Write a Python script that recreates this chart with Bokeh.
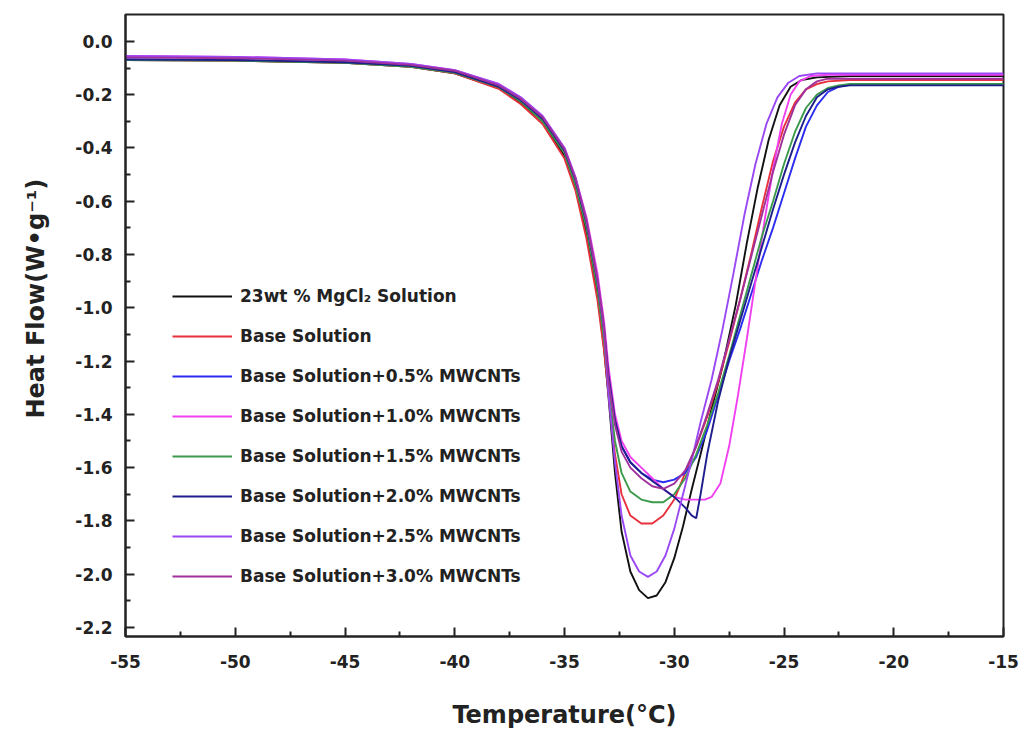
from bokeh.plotting import figure
from bokeh.models import Range1d, FixedTicker, Legend, LegendItem, Title
from bokeh.embed import file_html
from bokeh.resources import INLINE

# ---- data ----
left_T = [-55, -50, -45, -42, -40, -38, -37, -36, -35, -34.5, -34, -33.5, -33.2]

black_T = left_T + [-33.0, -32.7, -32.4, -32.0, -31.6, -31.2, -30.8, -30.4, -30.0, -29.6, -29.2, -28.8, -28.3,
                    -27.8, -27.2, -26.7, -26.2, -25.7, -25.2, -24.7, -24.2, -23.5, -22, -20, -15]
black_H = [-0.07, -0.072, -0.08, -0.095, -0.12, -0.175, -0.23, -0.30, -0.43, -0.55, -0.72, -0.95, -1.15,
           -1.33, -1.62, -1.84, -1.99, -2.06, -2.09, -2.08, -2.03, -1.94, -1.82, -1.68, -1.55, -1.38,
           -1.22, -0.99, -0.76, -0.55, -0.37, -0.24, -0.17, -0.145, -0.135, -0.13, -0.13, -0.13]

red_T = left_T + [-33.0, -32.7, -32.4, -32.0, -31.5, -31.0, -30.5, -30.0, -29.5, -29.0, -28.5, -28.0, -27.5,
                  -27.0, -26.5, -26.0, -25.5, -25.0, -24.5, -24.0, -23.5, -23.0, -22, -20, -15]
red_H = [-0.07, -0.072, -0.08, -0.095, -0.12, -0.178, -0.235, -0.31, -0.44, -0.56, -0.74, -0.97, -1.16,
         -1.32, -1.55, -1.70, -1.78, -1.81, -1.81, -1.78, -1.72, -1.62, -1.52, -1.41, -1.28, -1.13,
         -0.97, -0.80, -0.62, -0.45, -0.32, -0.23, -0.18, -0.16, -0.15, -0.145, -0.145, -0.145]

blue_T = left_T + [-33.0, -32.7, -32.4, -32.0, -31.5, -31.0, -30.5, -30.0, -29.5, -29.0, -28.5, -28.0, -27.5,
                   -27.0, -26.5, -26.0, -25.5, -25.0, -24.5, -24.0, -23.5, -23.0, -22.5, -22, -20, -15]
blue_H = [-0.068, -0.07, -0.078, -0.092, -0.115, -0.17, -0.22, -0.29, -0.41, -0.52, -0.68, -0.90, -1.08,
          -1.25, -1.42, -1.52, -1.58, -1.62, -1.645, -1.655, -1.645, -1.62, -1.56, -1.46, -1.33, -1.20,
          -1.08, -0.95, -0.82, -0.70, -0.57, -0.44, -0.32, -0.24, -0.19, -0.17, -0.162, -0.16, -0.16]

magenta_T = left_T + [-33.0, -32.7, -32.4, -32.0, -31.5, -31.0, -30.5, -30.0, -29.5, -29.0, -28.6, -28.3, -27.9,
                      -27.5, -27.1, -26.7, -26.3, -25.9, -25.5, -25.1, -24.7, -24.3, -23.8, -23, -20, -15]
magenta_H = [-0.055, -0.058, -0.068, -0.085, -0.108, -0.16, -0.21, -0.28, -0.40, -0.51, -0.66, -0.87, -1.05,
             -1.22, -1.40, -1.50, -1.56, -1.60, -1.64, -1.68, -1.71, -1.72, -1.72, -1.72, -1.71, -1.66,
             -1.52, -1.33, -1.12, -0.90, -0.68, -0.48, -0.31, -0.20, -0.15, -0.13, -0.125, -0.125, -0.125]

green_T = left_T + [-33.0, -32.7, -32.4, -32.0, -31.5, -31.0, -30.5, -30.0, -29.5, -29.0, -28.5, -28.0, -27.5,
                    -27.0, -26.5, -26.0, -25.5, -25.0, -24.5, -24.0, -23.5, -23.0, -22.5, -22, -20, -15]
green_H = [-0.07, -0.072, -0.08, -0.095, -0.118, -0.172, -0.225, -0.30, -0.42, -0.54, -0.70, -0.93, -1.12,
           -1.30, -1.50, -1.62, -1.69, -1.72, -1.73, -1.73, -1.70, -1.64, -1.55, -1.44, -1.32, -1.18,
           -1.03, -0.88, -0.73, -0.60, -0.46, -0.34, -0.25, -0.20, -0.175, -0.165, -0.16, -0.16, -0.16]

navy_T = left_T + [-33.0, -32.7, -32.4, -32.0, -31.5, -31.0, -30.5, -30.0, -29.5, -29.2, -29.0, -28.8, -28.5,
                   -28.0, -27.5, -27.0, -26.5, -26.0, -25.5, -25.0, -24.5, -24.0, -23.5, -23.0, -22.5, -22, -20, -15]
navy_H = [-0.068, -0.07, -0.078, -0.092, -0.115, -0.17, -0.22, -0.29, -0.41, -0.52, -0.68, -0.90, -1.08,
          -1.25, -1.42, -1.52, -1.58, -1.62, -1.65, -1.68, -1.71, -1.75, -1.78, -1.79, -1.70, -1.55,
          -1.35, -1.19, -1.05, -0.91, -0.77, -0.63, -0.50, -0.38, -0.28, -0.21, -0.18, -0.17, -0.165, -0.165, -0.165]

purple_T = left_T + [-33.0, -32.7, -32.4, -32.0, -31.6, -31.2, -30.8, -30.4, -30.0, -29.6, -29.2, -28.8, -28.3,
                     -27.8, -27.3, -26.8, -26.3, -25.8, -25.3, -24.8, -24.3, -23.5, -20, -15]
purple_H = [-0.055, -0.058, -0.068, -0.085, -0.108, -0.16, -0.21, -0.28, -0.40, -0.51, -0.67, -0.89, -1.08,
            -1.32, -1.58, -1.78, -1.93, -1.99, -2.01, -1.99, -1.93, -1.83, -1.70, -1.57, -1.43, -1.27,
            -1.08, -0.87, -0.65, -0.46, -0.31, -0.21, -0.155, -0.13, -0.12, -0.12, -0.12]

plum_T = left_T + [-33.0, -32.7, -32.4, -32.0, -31.5, -31.0, -30.5, -30.0, -29.5, -29.0, -28.5, -28.0, -27.5,
                   -27.0, -26.5, -26.0, -25.5, -25.0, -24.5, -24.0, -23.5, -23.0, -20, -15]
plum_H = [-0.06, -0.063, -0.072, -0.088, -0.11, -0.165, -0.215, -0.285, -0.405, -0.515, -0.67, -0.89, -1.07,
          -1.27, -1.44, -1.54, -1.60, -1.64, -1.67, -1.68, -1.66, -1.61, -1.52, -1.40, -1.27, -1.12,
          -0.97, -0.81, -0.65, -0.49, -0.35, -0.24, -0.18, -0.15, -0.14, -0.14, -0.14]

labels = ["23wt % MgCl\u2082 Solution", "Base Solution", "Base Solution+0.5% MWCNTs",
          "Base Solution+1.0% MWCNTs", "Base Solution+1.5% MWCNTs", "Base Solution+2.0% MWCNTs",
          "Base Solution+2.5% MWCNTs", "Base Solution+3.0% MWCNTs"]
series = [(black_T, black_H), (red_T, red_H), (blue_T, blue_H), (magenta_T, magenta_H),
          (green_T, green_H), (navy_T, navy_H), (purple_T, purple_H), (plum_T, plum_H)]
colors = ["#111111", "#e8303c", "#2c2cf0", "#f040f0", "#3c9a4c", "#1e1e8c", "#9a48f4", "#a0309c"]

x_ticks = [-55, -50, -45, -40, -35, -30, -25, -20, -15]
y_ticks = [0.0, -0.2, -0.4, -0.6, -0.8, -1.0, -1.2, -1.4, -1.6, -1.8, -2.0, -2.2]
x_title = "Temperature(\u00b0C)"
y_title = "Heat Flow(W\u2022g\u207b\u00b9)"

FONT = "DejaVu Sans"
INK = "#222222"

p = figure(width=1025, height=738, output_backend="svg", toolbar_location=None,
           x_range=Range1d(-55, -15), y_range=Range1d(-2.234, 0.101),
           min_border_left=125, min_border_right=22, min_border_top=14, min_border_bottom=102)
p.background_fill_color = "white"
p.border_fill_color = "white"
p.grid.visible = False
p.outline_line_color = INK
p.outline_line_width = 2

renderers = []
for (t, h), c in zip(series, colors):
    r = p.line(t, h, line_color=c, line_width=1.9)
    renderers.append(r)

items = [LegendItem(label=lab, renderers=[r]) for lab, r in zip(labels, renderers)]
legend = Legend(items=items, location=(47, 50), glyph_width=60, glyph_height=20, label_height=20,
                spacing=20, padding=0, margin=0, label_standoff=8,
                background_fill_alpha=0, border_line_alpha=0,
                label_text_font=FONT, label_text_font_style="bold", label_text_font_size="17px",
                label_text_color=INK)
p.add_layout(legend, "center")

for ax in (p.xaxis[0], p.yaxis[0]):
    ax.axis_line_width = 2
    ax.axis_line_color = INK
    ax.major_tick_in = 9
    ax.major_tick_out = 0
    ax.minor_tick_in = 5
    ax.minor_tick_out = 0
    ax.major_tick_line_width = 2
    ax.minor_tick_line_width = 2
    ax.major_tick_line_color = INK
    ax.minor_tick_line_color = INK
    ax.major_label_text_font = FONT
    ax.major_label_text_font_style = "bold"
    ax.major_label_text_font_size = "17px"
    ax.major_label_text_color = INK
    ax.axis_label_text_font = FONT
    ax.axis_label_text_font_style = "bold"
    ax.axis_label_text_font_size = "24px"
    ax.axis_label_text_color = INK

p.xaxis.ticker = FixedTicker(ticks=x_ticks, minor_ticks=[-52.5, -47.5, -42.5, -37.5, -32.5, -27.5, -22.5, -17.5])
p.yaxis.ticker = FixedTicker(ticks=y_ticks, minor_ticks=[-0.1, -0.3, -0.5, -0.7, -0.9, -1.1, -1.3, -1.5, -1.7, -1.9, -2.1])
p.yaxis.major_label_overrides = {t: f"{t:.1f}" for t in y_ticks}
p.xaxis.major_label_overrides = {t: f"{t}" for t in x_ticks}
p.xaxis.major_label_standoff = 18
p.yaxis.major_label_standoff = 13
p.xaxis.axis_label = x_title
p.xaxis.axis_label_standoff = 30

# y title: a side title so it can sit a little above the frame centre, like the reference
ytitle = Title(text=y_title, align="left", offset=218, standoff=42, vertical_align="top",
               text_font=FONT, text_font_style="bold", text_font_size="24px", text_color=INK)
p.add_layout(ytitle, "left")

open("out.html", "w").write(file_html(p, INLINE))
